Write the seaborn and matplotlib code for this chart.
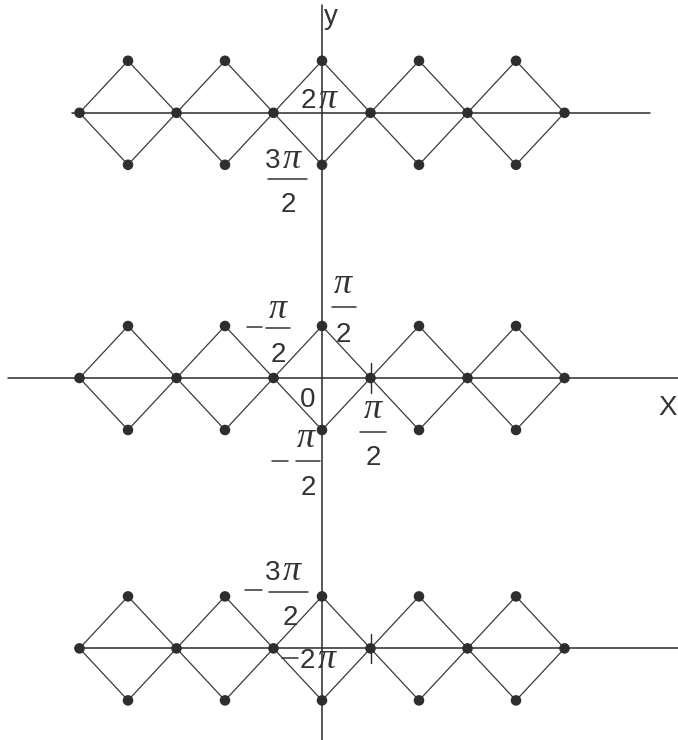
import numpy as np
import pandas as pd
import matplotlib
matplotlib.use("Agg")
import matplotlib.pyplot as plt
import seaborn as sns

# ---- data (x in units of pi; y as drawn, in units of pi) ----
diamond_centers_x = [-2, -1, 0, 1, 2]          # top/bottom vertices x
half_width = [0.5]                              # diamond half width (pi/2)
half_height = [0.5]                             # diamond half height (pi/2)
row_levels = [2.55, 0.0, -2.6]                  # rows at 2pi, 0, -2pi (as drawn)
row_names = ["2π", "0", "−2π"]

# axis line extents (as drawn)
row_line_x0 = [-2.58, -3.24, -2.55]
row_line_x1 = [3.38, 3.67, 3.67]
yaxis_top = [3.59]

# ---- build tables ----
poly_rows = []
pt_rows = []
uid = 0
for r, c in enumerate(row_levels):
    for k in diamond_centers_x:
        w, h = half_width[0], half_height[0]
        verts = [(k - w, c), (k, c + h), (k + w, c), (k, c - h), (k - w, c)]
        for order, (vx, vy) in enumerate(verts):
            poly_rows.append(dict(unit=uid, order=order, x=vx, y=vy))
        uid += 1
        for vx, vy in verts[:-1]:
            pt_rows.append(dict(x=vx, y=vy))
poly = pd.DataFrame(poly_rows)
pts = pd.DataFrame(pt_rows).drop_duplicates()

sns.set_theme(style="white")
plt.rcParams["font.family"] = ["Liberation Sans", "DejaVu Sans"]

W, H = 678, 740
fig = plt.figure(figsize=(W / 100, H / 100), dpi=100)
ax = fig.add_axes([0, 0, 1, 1])
XL = (-322 / 97, (W - 322) / 97)
YL = ((378 - H) / 104, 378 / 104)
ax.set_xlim(*XL)
ax.set_ylim(*YL)
ax.axis("off")

def P(xp, yp):
    return XL[0] + xp / W * (XL[1] - XL[0]), YL[1] - yp / H * (YL[1] - YL[0])

ink = "#2b2b2b"
# axes lines
for c, x0, x1 in zip(row_levels, row_line_x0, row_line_x1):
    ax.plot([x0, x1], [c, c], color=ink, lw=1.1, zorder=1)
ax.plot([0, 0], [YL[0], yaxis_top[0]], color=ink, lw=1.1, zorder=1)
# small ticks at pi/2
for c in row_levels[1:]:
    ax.plot([0.5, 0.5], [c - 0.14, c + 0.14], color=ink, lw=1.0, zorder=1)

sns.lineplot(data=poly, x="x", y="y", units="unit", estimator=None, sort=False,
             color="#3a3a3a", lw=0.9, ax=ax, zorder=2, legend=False)
sns.scatterplot(data=pts, x="x", y="y", s=58, color="#2e2e2e", edgecolor="none",
                ax=ax, zorder=3, legend=False)
ax.set_xlabel("")
ax.set_ylabel("")
ax.set_xlim(*XL)
ax.set_ylim(*YL)

tc = "#333333"
fs = 20
pfs = 26

def txt(xp, yp, s, ha="center"):
    x, y = P(xp, yp)
    ax.text(x, y, s, ha=ha, va="baseline", fontsize=fs, color=tc, zorder=4)

def pi_txt(xp, yp, ha="left"):
    x, y = P(xp, yp)
    ax.text(x, y, "π", ha=ha, va="baseline", fontsize=pfs, color=tc,
            family="Liberation Serif", style="italic", zorder=4)

def num_pi(split_x, base_y, digits):
    if digits:
        txt(split_x - 2, base_y, digits, ha="right")
        pi_txt(split_x + 1, base_y, ha="left")
    else:
        pi_txt(split_x, base_y, ha="center")

def hbar(x0, x1, yp):
    a, yb = P(x0, yp)
    b, _ = P(x1, yp)
    ax.plot([a, b], [yb, yb], color=tc, lw=1.1, zorder=4)

# top row
txt(331, 24, "y")
num_pi(318, 108, "2")
num_pi(282, 168, "3")
hbar(268, 307, 179)
txt(288, 212, "2")
# middle row
num_pi(278, 318, "")
hbar(266, 290, 328)
hbar(247, 262, 327)
txt(278, 362, "2")

num_pi(343, 293, "")
hbar(332, 356, 307)
txt(343, 342, "2")

txt(308, 407, "0")

num_pi(373, 418, "")
hbar(360, 386, 432)
txt(373, 465, "2")

num_pi(306, 447, "")
hbar(296, 320, 461)
hbar(272, 288, 461)
txt(308, 495, "2")

txt(668, 415, "X")
# bottom row
num_pi(282, 580, "3")
hbar(269, 308, 592)
hbar(245, 262, 590)
txt(290, 625, "2")

num_pi(317, 668, "2")
hbar(282, 298, 658)

fig.savefig("out.png", dpi=100)
